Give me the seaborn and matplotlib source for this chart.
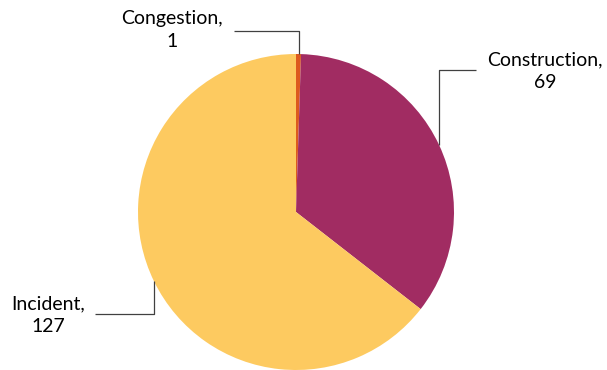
import numpy as np
import matplotlib
matplotlib.use("Agg")
import matplotlib.pyplot as plt
import seaborn as sns

categories = ["Congestion", "Construction", "Incident"]
counts = [1, 69, 127]
colors = ["#DD5A1E", "#A12C62", "#FDCA60"]

# label layout in pixel space: (elbow y, line end x, text x, text y)
label_layout = {
    "Congestion":   (31, 234, 172, 30),
    "Construction": (70, 476, 545, 71),
    "Incident":     (314, 95, 48, 315),
}

W, H = 607, 370
CX, CY, R = 296, 212, 158

sns.set_style("white")
plt.rcParams["font.family"] = ["Lato", "DejaVu Sans"]

fig = plt.figure(figsize=(W / 100, H / 100), dpi=100)
ax = fig.add_axes([0, 0, 1, 1])


def ypx(y):
    return H - y


wedges, _ = ax.pie(counts, colors=colors, startangle=90, counterclock=False,
                   center=(CX, ypx(CY)), radius=R, frame=True,
                   wedgeprops=dict(linewidth=0))
ax.set_xlim(0, W)
ax.set_ylim(0, H)
ax.set_aspect("equal")
ax.axis("off")

for w, name, n in zip(wedges, categories, counts):
    mid = np.deg2rad((w.theta1 + w.theta2) / 2)
    ax_x = CX + R * np.cos(mid)
    ax_y = ypx(CY) + R * np.sin(mid)
    elbow_y, end_x, tx, ty = label_layout[name]
    ax.plot([ax_x, ax_x, end_x], [ax_y, ypx(elbow_y), ypx(elbow_y)],
            color="#404040", lw=0.9, solid_capstyle="butt")
    ax.text(tx, ypx(ty), f"{name},\n{n}", ha="center", va="center",
            fontsize=14, color="#000000", linespacing=1.4)

fig.savefig("out.png", dpi=100, facecolor="white")
